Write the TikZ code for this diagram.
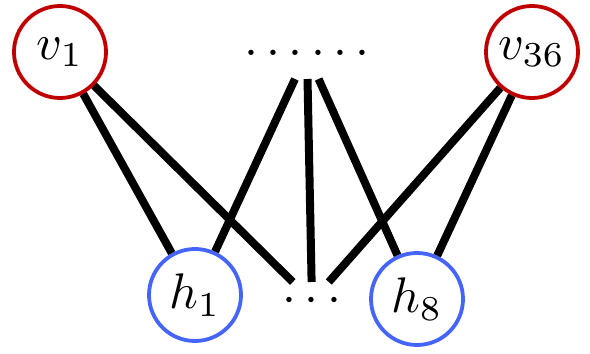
\documentclass[tikz,border=0pt]{standalone}
\definecolor{vred}{RGB}{192,0,0}
\definecolor{hblue}{RGB}{68,100,250}
\tikzset{
  vis/.style={circle, draw=vred, line width=3.8pt, minimum size=18.4pt, inner sep=0pt, outer sep=0.38pt},
  hid/.style={circle, draw=hblue, line width=3.8pt, minimum size=18.4pt, inner sep=0pt, outer sep=0.38pt},
  dotsbox/.style={rectangle, inner sep=0pt, outer sep=0pt, minimum width=26pt},
  conn/.style={line width=8pt, black}
}
\begin{document}
\begin{tikzpicture}[x=0.2pt, y=-0.2pt, scale=5, every node/.append style={transform shape}]
\useasboundingbox (0,0) rectangle (590,354);
\node[vis] (v1) at (60,52) {$v_1$};
\node[vis] (v36) at (532,52) {$v_{36}$};
\node[hid] (h1) at (195,295) {$h_1$};
\node[hid] (h8) at (417,299) {$h_8$};
\node[dotsbox, minimum height=10.4pt] (tdots) at (307,53) {$\ldots\ldots$};
\node[dotsbox, minimum width=14pt, minimum height=7.6pt] (bdots) at (312,301) {$\cdots$};
\draw[conn] (v1) -- (h1);
\draw[conn] (v1) -- (bdots);
\draw[conn] (tdots) -- (h1);
\draw[conn] (tdots) -- (bdots);
\draw[conn] (tdots) -- (h8);
\draw[conn] (v36) -- (bdots);
\draw[conn] (v36) -- (h8);
\end{tikzpicture}
\end{document}
